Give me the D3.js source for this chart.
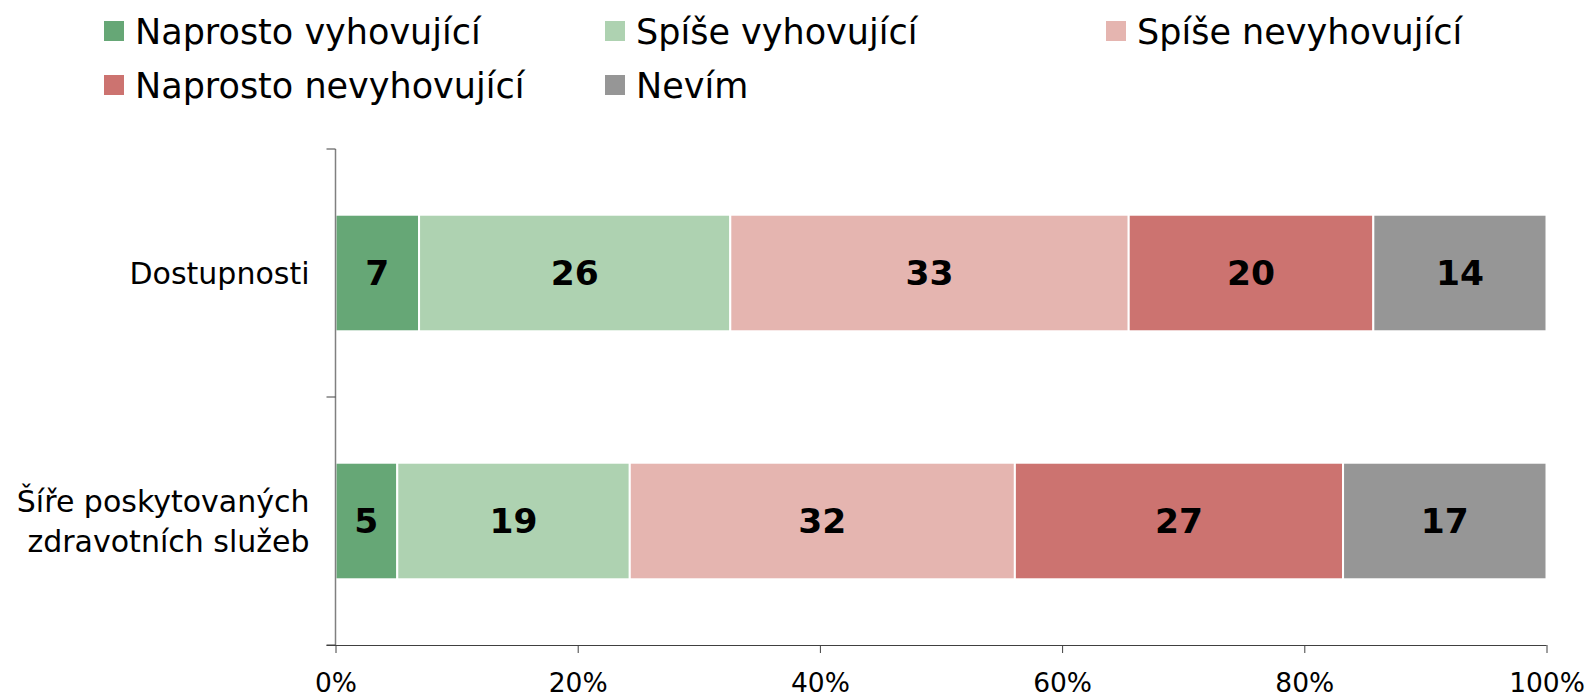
<!DOCTYPE html>
<html><head><meta charset="utf-8">
<script src="https://cdn.jsdelivr.net/npm/d3@7"></script>
<style>body{margin:0;background:#fff}svg{display:block;font-family:"DejaVu Sans",Verdana,sans-serif}</style>
</head><body>
<svg id="c" width="1588" height="699"></svg>
<script>
const categories = ["Dostupnosti", "Šíře poskytovaných|zdravotních služeb"];
const seriesNames = ["Naprosto vyhovující", "Spíše vyhovující", "Spíše nevyhovující", "Naprosto nevyhovující", "Nevím"];
const seriesColors = ["#66a776", "#aed2b1", "#e5b5b0", "#cc7370", "#969696"];
const naprostoVyhovujici = [6.9, 5.1];
const spiseVyhovujici = [25.7, 19.2];
const spiseNevyhovujici = [32.9, 31.8];
const naprostoNevyhovujici = [20.2, 27.1];
const nevim = [14.3, 16.8];
const xTicks = [0, 20, 40, 60, 80, 100];

const values = [naprostoVyhovujici, spiseVyhovujici, spiseNevyhovujici, naprostoNevyhovujici, nevim];
const rows = categories.map((c, i) => {
  const r = {cat: c};
  seriesNames.forEach((s, j) => r[s] = values[j][i]);
  return r;
});
const stack = d3.stack().keys(seriesNames)(rows);

const svg = d3.select("#c");
const m = {l: 335.5, r: 1546.5, t: 149, b: 645};
const x = d3.scaleLinear().domain([0, 100]).range([m.l, m.r]);
const y = d3.scaleBand().domain(categories).range([m.t, m.b]).paddingInner(0.53).paddingOuter(0.265);

// bars
const g = svg.append("g");
stack.forEach((layer, j) => {
  g.selectAll(null).data(layer).enter().append("rect")
    .attr("x", d => x(d[0]))
    .attr("y", d => y(d.data.cat))
    .attr("width", d => x(d[1]) - x(d[0]))
    .attr("height", y.bandwidth())
    .attr("fill", seriesColors[j])
    .attr("stroke", "#fff").attr("stroke-width", 2);
  g.selectAll(null).data(layer).enter().append("text")
    .attr("x", d => (x(d[0]) + x(d[1])) / 2)
    .attr("y", d => y(d.data.cat) + y.bandwidth() / 2)
    .attr("dy", "0.36em")
    .attr("text-anchor", "middle")
    .attr("font-weight", "bold").attr("font-size", 34.5).attr("fill", "#000")
    .text(d => Math.round(d[1] - d[0]));
});

// x axis
const xa = svg.append("g").attr("transform", `translate(0,${m.b})`)
  .call(d3.axisBottom(x).tickValues(xTicks).tickFormat(d => d + "%").tickSize(8).tickSizeOuter(0));
xa.select(".domain").attr("stroke", "#404040").attr("d", `M${m.l - 9},0.5H${m.r}`);
xa.selectAll(".tick line").attr("stroke", "#404040");
xa.selectAll("text").attr("font-size", 26.5).attr("fill", "#000").attr("y", 47).attr("dy", "0").attr("font-family", "DejaVu Sans");

// y axis
const ya = svg.append("g").attr("transform", `translate(${m.l},0)`);
ya.append("line").attr("x1", 0).attr("x2", 0).attr("y1", m.t).attr("y2", m.b).attr("stroke", "#808080").attr("stroke-width", 1.5);
const yTickPos = [m.t, (m.t + m.b) / 2, m.b];
ya.selectAll(null).data(yTickPos).enter().append("line")
  .attr("x1", -9).attr("x2", 0).attr("y1", d => d).attr("y2", d => d).attr("stroke", "#404040");
categories.forEach(c => {
  const lines = c.split("|");
  const cy = y(c) + y.bandwidth() / 2;
  const lh = 40.5;
  const t = ya.append("text").attr("text-anchor", "end").attr("font-size", 30).attr("fill", "#000");
  lines.forEach((ln, i) => {
    t.append("tspan").attr("x", -26).attr("y", cy + (i - (lines.length - 1) / 2) * lh).attr("dy", "0.36em").text(ln);
  });
});

// legend
const legX = [104, 605, 1106];
const legY = [31, 85];
seriesNames.forEach((s, i) => {
  const lx = legX[i % 3], ly = legY[Math.floor(i / 3)];
  svg.append("rect").attr("x", lx).attr("y", ly - 10).attr("width", 20).attr("height", 20).attr("fill", seriesColors[i]);
  svg.append("text").attr("x", lx + 31).attr("y", ly).attr("dy", "0.36em").attr("font-size", 35).attr("fill", "#000").text(s);
});
</script>
</body></html>
